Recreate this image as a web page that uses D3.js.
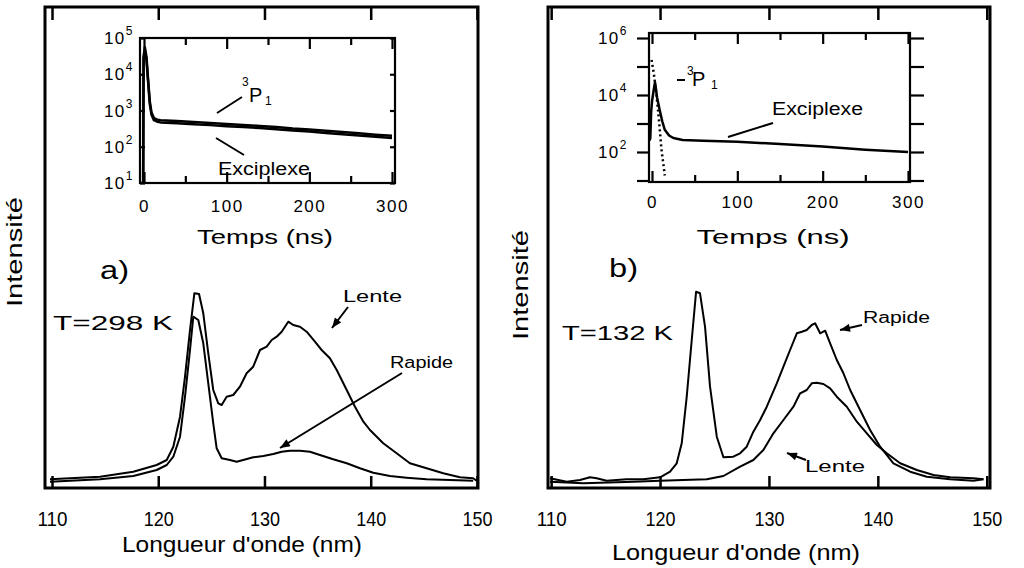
<!DOCTYPE html>
<html><head><meta charset="utf-8">
<script src="https://cdn.jsdelivr.net/npm/d3@7"></script>
<style>body{margin:0;background:#fff}svg{display:block}text{font-family:"Liberation Sans",Arial,Helvetica,sans-serif;fill:#000}</style>
</head><body><svg id="c" width="1024" height="568"></svg>
<script>
// ---------- DATA ----------
const xTicks = [110, 120, 130, 140, 150];
// Panel a (T = 298 K)
const lamA_lente = [109.81,114.52,117.65,119.85,120.80,121.42,122.05,122.52,122.99,123.40,123.84,124.24,124.71,125.18,125.65,125.97,126.44,127.06,127.69,128.32,128.94,129.58,130.21,130.68,131.15,131.62,132.24,132.71,133.34,133.97,134.75,135.38,136.16,136.80,137.74,138.52,139.31,139.93,141.18,142.44,143.69,145.26,146.83,148.40,149.65,149.97];
const intA_lente = [8.7,11.3,16.3,23,28,41.3,71.3,111.3,158,194.7,194,174.7,134.7,98,84.7,83,91.3,93,101.3,114.7,121.3,138,141.3,148,151.3,156.3,166.3,163,161.3,156.3,146.3,138,129.7,118,98,81.3,66.3,58,44.7,34.7,24.7,19.7,14.7,10.7,9.7,7.3];
const lamA_rapide = [109.81,114.52,117.65,119.85,120.80,121.42,122.05,122.52,122.99,123.30,123.77,124.24,124.71,125.18,125.50,125.97,126.75,127.38,128.00,128.94,129.89,130.83,131.62,132.40,133.34,134.28,135.22,136.47,137.74,138.99,140.24,141.81,143.38,145.26,147.46,149.65];
const intA_rapide = [6.3,8.7,12,18,23,31.3,51.3,91.3,138,171.3,168,144.7,104.7,64.7,39.7,29.7,28,26.3,28,30.7,32,34,36.3,37.3,37.3,36.3,33,28.7,24.7,19.7,15.3,12,10.3,8.7,8,7.3];
// Panel b (T = 132 K)
const lamB_rapide = [109.89,111.43,112.65,113.57,114.18,115.10,116.94,118.47,120.00,120.92,121.53,121.99,122.45,122.91,123.31,123.67,124.13,124.59,125.21,125.82,126.73,127.35,127.96,128.57,129.19,129.80,130.72,131.33,131.94,132.56,133.02,133.47,133.93,134.24,134.70,135.16,135.62,136.23,136.84,137.46,138.37,139.29,140.21,141.43,142.97,144.50,146.64,148.78,149.70];
const intB_rapide = [9.7,6.3,8,10.7,9.7,7.3,8.7,8.7,10.7,16.3,24.7,44.7,91.3,148,196.3,194.7,161.3,101.3,51.3,30.7,31.3,34.7,41.3,56.3,68,81.3,104.7,121.3,138,154.7,156.3,158,163,164.7,154.7,157.3,144.7,128,114.7,98,78,58,41.3,24.7,16.3,11.3,8.7,7.3,8.7];
const lamB_lente = [109.89,112.96,117.55,120.00,122.14,124.29,125.82,127.35,128.57,129.49,130.41,131.33,132.25,132.86,133.47,133.93,134.39,135.00,135.62,136.23,137.15,138.07,138.99,139.91,140.82,142.05,143.58,145.11,146.64,148.78,149.70];
const intB_lente = [6.3,4.7,6.3,7.3,8,8.7,12,21.3,28,38,54.7,68,81.3,94.7,98,104.7,105.3,104,99.7,91.3,81.3,66.3,54.7,43,34.7,24.7,18,13,10.7,9.7,8.7];
// Insets (time decays)
const tTicksMajor = [0, 100, 200, 300];
const tTicksMinor = [50, 150, 250];
const tA = [-3,-1,-0.5,1,3,5,7,9,12,16,20,40,60,80,100,120,140,160,180,200,220,240,260,280,300];
const iA_3P1 = [10,10,30000,56000,30000,7000,1800,900,620,560,540,510,480,450,425,400,375,350,320,300,275,255,235,215,200];
const iA_exc = [10,10,26000,48000,25000,6000,1500,780,540,490,470,445,420,395,370,350,330,305,280,262,240,222,205,188,175];
const tB_exc = [-3,-2,-1,0,2,3.5,6,9,12,15,20,25,36,60,100,150,200,250,300];
const iB_exc = [250,300,2500,6000,15000,28000,8000,3000,1200,600,380,310,265,250,230,190,155,120,100];
const tB_3P1 = [-0.5,2,5,8,11,15];
const iB_3P1 = [170000,60000,12000,1500,130,15];
const decA = [10,100,1000,10000,100000];
const decB = [10,100,1000,10000,100000,1000000];
const decB_lab = [100,10000,1000000];

// ---------- DRAW ----------
const svg = d3.select("#c");
svg.append("rect").attr("width",1024).attr("height",568).attr("fill","#fff");
const defs = svg.append("defs");
defs.append("marker").attr("id","ah").attr("viewBox","0 0 10 8").attr("refX",10).attr("refY",4)
  .attr("markerWidth",11).attr("markerHeight",8).attr("markerUnits","userSpaceOnUse").attr("orient","auto")
  .append("path").attr("d","M0,0L10,4L0,8z").attr("fill","#000");

function txt(g, x, y, s, size, opts={}) {
  const t = g.append("text").attr("x",x).attr("y",y).attr("font-size",size).text(s);
  if (opts.anchor) t.attr("text-anchor",opts.anchor);
  if (opts.len) t.attr("textLength",opts.len).attr("lengthAdjust","spacingAndGlyphs");
  if (opts.rot) t.attr("transform",`rotate(-90,${x},${y})`);
  return t;
}
function arrow(x1,y1,x2,y2,head){
  const l = svg.append("line").attr("x1",x1).attr("y1",y1).attr("x2",x2).attr("y2",y2)
    .attr("stroke","#000").attr("stroke-width",2);
  if (head) l.attr("marker-end","url(#ah)");
}

function mainPanel(p) {
  const g = svg.append("g");
  const x = d3.scaleLinear().domain(p.dom).range([p.x0,p.x1]);
  const y = d3.scaleLinear().domain([0,481]).range([488,7]);
  const line = d3.line().x(d=>x(d[0])).y(d=>y(d[1]));
  p.series.forEach(s=>{
    g.append("path").datum(d3.zip(s[0],s[1])).attr("d",line)
      .attr("fill","none").attr("stroke","#000").attr("stroke-width",2).attr("stroke-linejoin","round");
  });
  const ab = g.append("g").attr("transform","translate(0,488)")
    .call(d3.axisBottom(x).tickValues(xTicks).tickSizeInner(-12).tickSizeOuter(0).tickPadding(23).tickFormat(d3.format("d")));
  ab.select(".domain").remove();
  ab.selectAll("line").attr("stroke","#000").attr("stroke-width",2.5);
  ab.selectAll("text").attr("font-size",21).attr("font-family",null).attr("textLength",30).attr("lengthAdjust","spacingAndGlyphs");
  const at = g.append("g").attr("transform","translate(0,7)")
    .call(d3.axisTop(x).tickValues(xTicks).tickSizeInner(-13).tickSizeOuter(0).tickFormat(""));
  at.select(".domain").remove();
  at.selectAll("line").attr("stroke","#000").attr("stroke-width",2.5);
  g.append("rect").attr("x",p.x0).attr("y",7).attr("width",p.x1-p.x0).attr("height",481)
    .attr("fill","none").attr("stroke","#000").attr("stroke-width",3);
  return {x,y};
}

const A = mainPanel({x0:45,x1:478,dom:[109.34,150.1],series:[[lamA_lente,intA_lente],[lamA_rapide,intA_rapide]]});
const B = mainPanel({x0:548,x1:990,dom:[109.71,150.3],series:[[lamB_rapide,intB_rapide],[lamB_lente,intB_lente]]});

// ---------- INSETS ----------
function inset(p) {
  const g = svg.append("g");
  const x = d3.scaleLinear().domain([0,300]).range([p.tx0,p.tx1]);
  const y = d3.scaleLog().domain(p.ydom).range([p.yb,p.yt]);
  g.append("rect").attr("x",p.fx0).attr("y",p.fy0).attr("width",p.fx1-p.fx0).attr("height",p.fy1-p.fy0)
    .attr("fill","#fff").attr("stroke","#000").attr("stroke-width",2.2);
  const clipId = "clip"+p.id;
  defs.append("clipPath").attr("id",clipId).append("rect").attr("x",p.fx0).attr("y",p.fy0).attr("width",p.fx1-p.fx0).attr("height",p.fy1-p.fy0);
  const line = d3.line().x(d=>x(d[0])).y(d=>y(d[1]));
  p.series.forEach(s=>{
    const path = g.append("path").datum(d3.zip(s.t,s.v)).attr("d",line).attr("clip-path",`url(#${clipId})`)
      .attr("fill","none").attr("stroke","#000").attr("stroke-width",s.w||2.5).attr("stroke-linejoin","round");
    if (s.dash) path.attr("stroke-dasharray",s.dash);
  });
  [[d3.axisTop, p.fy0],[d3.axisBottom, p.fy1]].forEach(([ax, yy])=>{
    const a1 = g.append("g").attr("transform",`translate(0,${yy})`)
      .call(ax(x).tickValues(tTicksMajor).tickSizeInner(-11).tickSizeOuter(0).tickFormat(""));
    const a2 = g.append("g").attr("transform",`translate(0,${yy})`)
      .call(ax(x).tickValues(tTicksMinor).tickSizeInner(-7).tickSizeOuter(0).tickFormat(""));
    [a1,a2].forEach(a=>{a.select(".domain").remove();a.selectAll("line").attr("stroke","#000").attr("stroke-width",2.2);});
  });
  const al = g.append("g").attr("transform",`translate(0,${p.fy1})`)
    .call(d3.axisBottom(x).tickValues(tTicksMajor).tickSize(0).tickPadding(p.lpad).tickFormat(d3.format("d")));
  al.select(".domain").remove();
  al.selectAll("text").attr("font-size",17).attr("font-family",null).attr("letter-spacing",1.5);
  const ayl = g.append("g").attr("transform",`translate(${p.fx0},0)`)
    .call(d3.axisLeft(y).tickValues(p.dec).tickSizeInner(p.ytl).tickSizeOuter(0).tickFormat(""));
  const ayr = g.append("g").attr("transform",`translate(${p.fx1},0)`)
    .call(d3.axisRight(y).tickValues(p.dec).tickSizeInner(p.ytr).tickSizeOuter(0).tickFormat(""));
  [ayl,ayr].forEach(a=>{a.select(".domain").remove();a.selectAll("line").attr("stroke","#000").attr("stroke-width",2.2);});
  p.ylab.forEach(v=>{
    const e = Math.round(Math.log10(v));
    const t = g.append("text").attr("x",p.lx).attr("y",y(v)+6).attr("text-anchor","end").attr("font-size",17).attr("letter-spacing",1.5);
    t.append("tspan").text("10");
    t.append("tspan").attr("font-size",12).attr("dy",-9).text(e);
  });
  return {x,y,g};
}

const IA = inset({id:"a",tx0:144,tx1:392,fx0:140,fx1:395,fy0:38,fy1:183,ydom:[10,1e5],yb:183,yt:38,
  dec:decA,ylab:decA,ytl:-5,ytr:-5,lx:134,lpad:17,
  series:[{t:tA,v:iA_3P1},{t:tA,v:iA_exc}]});
const IB = inset({id:"b",tx0:652,tx1:908,fx0:649,fx1:910,fy0:33,fy1:182,ydom:[100,1e6],yb:152,yt:38,
  dec:decB,ylab:decB_lab,ytl:12,ytr:14,lx:628,lpad:14,
  series:[{t:tB_exc,v:iB_exc},{t:tB_3P1,v:iB_3P1,dash:"2,3",w:2.5}]});

// inset annotations
txt(svg,242,86,"3",12); txt(svg,249,102,"P",20); txt(svg,265,105,"1",12);
arrow(217,113,242,97,false);
txt(svg,218,175,"Exciplexe",18,{len:92});
arrow(216,138,244,155,false);
arrow(677,80,685,80,false);
txt(svg,687,75,"3",12); txt(svg,692,86,"P",20); txt(svg,711,89,"1",12);
txt(svg,772,115,"Exciplexe",18,{len:91});
arrow(773,123,728,137,false);

// axis titles
txt(svg,265,244,"Temps (ns)",20,{anchor:"middle",len:136});
txt(svg,773,244,"Temps (ns)",20,{anchor:"middle",len:153});
txt(svg,242,552,"Longueur d'onde (nm)",22,{anchor:"middle",len:240});
txt(svg,736,560,"Longueur d'onde (nm)",22,{anchor:"middle",len:248});
txt(svg,22,307,"Intensité",22,{rot:true,len:110});
txt(svg,528,340,"Intensité",22,{rot:true,len:110});

// panel annotations
txt(svg,100,279,"a)",25,{len:29});
txt(svg,609,277,"b)",25,{len:29});
txt(svg,53,330,"T=298  K",21,{len:120});
txt(svg,562,340,"T=132  K",21,{len:111});
txt(svg,343,302,"Lente",16,{len:59});
arrow(348,307,332,328,true);
txt(svg,390,368,"Rapide",16,{len:63});
arrow(402,373,280,448,true);
txt(svg,863,323,"Rapide",16,{len:67});
arrow(862,325,840,330,true);
txt(svg,805,472,"Lente",16,{len:60});
arrow(806,460,787,453,true);
</script></body></html>
